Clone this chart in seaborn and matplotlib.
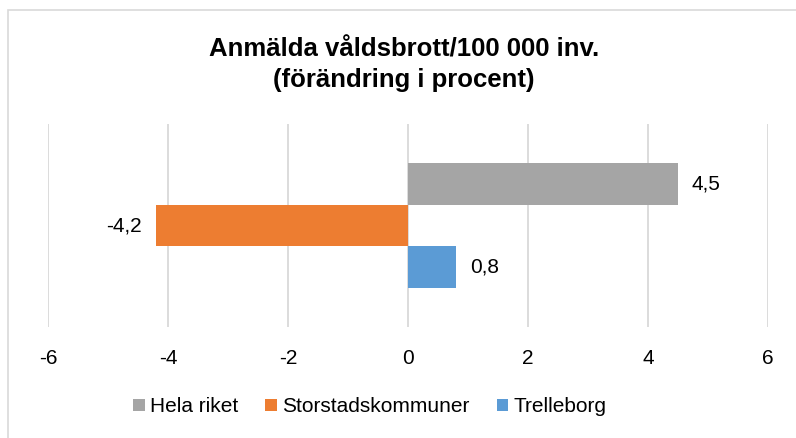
import matplotlib
matplotlib.use("Agg")
import matplotlib.pyplot as plt
from matplotlib.patches import Patch, Rectangle
import pandas as pd
import seaborn as sns

# data
category = "Anmälda våldsbrott"
series = ["Hela riket", "Storstadskommuner", "Trelleborg"]
values = [4.5, -4.2, 0.8]
colors = ["#A5A5A5", "#ED7D31", "#5B9BD5"]
xticks = [-6, -4, -2, 0, 2, 4, 6]
title = "Anmälda våldsbrott/100 000 inv.\n(förändring i procent)"

df = pd.DataFrame({"kategori": [category] * len(series),
                   "serie": series,
                   "varde": values})

sns.set_theme(style="white")
plt.rcParams["font.family"] = ["Liberation Sans", "DejaVu Sans"]
plt.rcParams["text.color"] = "black"

W, H = 796, 438
fig = plt.figure(figsize=(W / 100, H / 100), dpi=100)
ax = fig.add_axes([48 / W, 1 - 327 / H, 720 / W, 203 / H])

sns.barplot(data=df, x="varde", y="kategori", hue="serie", orient="h",
            palette=colors, width=0.62, dodge=True, saturation=1,
            linewidth=0, legend=False, ax=ax)

ax.set_xlim(xticks[0], xticks[-1])
ax.set_xticks(xticks)
ax.set_xticklabels([str(t) for t in xticks], fontsize=15, color="black")
ax.tick_params(axis="x", length=0, pad=16)
ax.set_yticks([])
ax.set_xlabel("")
ax.set_ylabel("")
ax.grid(axis="x", color="#D9D9D9", linewidth=1.3)
ax.set_axisbelow(True)
for s in ax.spines.values():
    s.set_visible(False)

for cont in ax.containers:
    labels = [f"{b.get_width():.1f}".replace(".", ",") for b in cont]
    ax.bar_label(cont, labels=labels, padding=10, fontsize=15, color="black")

fig.text(404 / W, 1 - 65 / H, title, ha="center", va="center",
         fontsize=18.5, fontweight="bold", linespacing=1.35, color="black")

handles = [Patch(facecolor=c, edgecolor="none", label=s)
           for s, c in zip(series, colors)]
fig.legend(handles=handles, loc="center left",
           bbox_to_anchor=(123 / W, 1 - 407 / H),
           ncol=3, frameon=False, fontsize=15, borderpad=0,
           handlelength=0.55, handleheight=0.55, handletextpad=0.25,
           columnspacing=1.3)

# chart frame (only left and top edges fall inside the picture)
fig.patches.append(Rectangle((8 / W, -0.1), 1.2, 1.1 - 10 / H,
                             transform=fig.transFigure, fill=False,
                             edgecolor="#D9D9D9", linewidth=1.2))

fig.savefig("out.png", dpi=100)
